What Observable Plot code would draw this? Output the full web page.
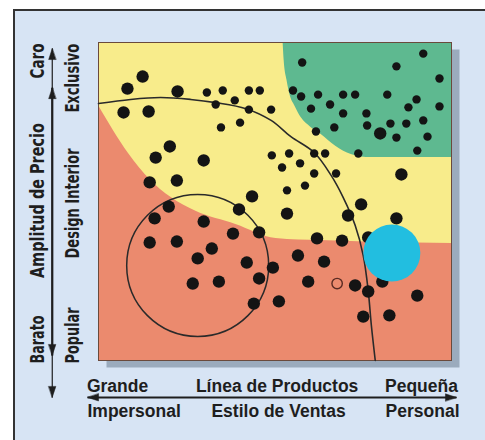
<!DOCTYPE html>
<html><head><meta charset="utf-8">
<script src="https://cdn.jsdelivr.net/npm/d3@7"></script>
<script src="https://cdn.jsdelivr.net/npm/@observablehq/plot@0.6"></script>
<style>
body{margin:0;background:#fff;}
#wrap{position:relative;width:485px;height:440px;overflow:hidden;}
#panel{position:absolute;left:13px;top:9px;width:500px;height:460px;background:#d7e4f4;border-left:2.5px solid #333;border-top:2.5px solid #333;}
#chart{position:absolute;left:0;top:0;}
</style></head>
<body><div id="wrap"><div id="panel"></div><div id="chart"></div></div>
<script>
// Region boundaries (x: line of products / sales style 0-100, y: price range 0-100)
const redX = [0, 8.5, 14.8, 20.5, 27.6, 38.9, 50.3, 63.1, 80.1, 100];
const redY = [80.2, 65.1, 56.6, 51.3, 46.9, 42.8, 38.4, 37.7, 37.1, 36.8];
const greenX = [52.3, 52.6, 53.4, 54.3, 55.7, 57.4, 60.2, 63.1, 67.3, 71.6, 77.3, 100];
const greenY = [100, 94.3, 88.1, 83.3, 79.9, 76.4, 73.3, 71.1, 67.3, 64.8, 63.8, 63.8];
// Big arc
const arcX = [0, 9.1, 17.6, 26.1, 33.2, 41.8, 48.9, 54.5, 61.1, 65.9, 69.3, 72.7, 75.0, 76.4, 77.3, 78.4];
const arcY = [80.8, 82.1, 82.7, 82.1, 81.1, 79.2, 75.5, 70.4, 65.4, 58.2, 51.3, 42.5, 33.0, 22.0, 11.0, 0];
// Circle, highlight and hollow marker
const ringCenter = [28.1, 29.9];
const blueCenter = [83.1, 33.8];
const hollowCenter = [67.6, 24.2];
// Dots
const largeX = [8.2, 12.5, 22.4, 7.1, 14.2, 20.2, 16.2, 29.8, 14.5, 22.2, 43.5, 79.8, 85.8, 19.9, 15.9, 29.8, 39.8, 38.1, 45.5, 14.5, 22.2, 32.1, 28.1, 42.0, 49.4, 45.5, 26.7, 34.1, 44.0, 51.1, 53.4, 74.4, 70.7, 84.4, 61.9, 69.0, 76.4, 56.5, 63.9, 59.4, 72.7, 76.4, 80.4, 90.3, 75.0, 82.4];
const largeY = [85.5, 89.3, 84.6, 78.0, 78.3, 67.3, 63.8, 62.9, 56.0, 56.6, 51.6, 71.4, 58.5, 48.4, 44.7, 43.7, 47.5, 39.9, 40.3, 37.1, 37.4, 35.2, 32.1, 30.8, 29.2, 25.8, 24.2, 24.8, 17.9, 18.6, 46.2, 49.1, 45.6, 44.7, 38.4, 37.7, 38.7, 33.0, 31.1, 24.8, 23.6, 21.7, 24.8, 20.4, 13.8, 14.2];
const smallX = [30.7, 35.2, 38.6, 33.2, 42.6, 45.7, 42.6, 48.9, 34.7, 40.1, 49.1, 57.7, 92.0, 84.4, 96.6, 55.1, 57.4, 62.2, 69.3, 72.7, 81.8, 90.1, 87.8, 96.6, 60.2, 65.6, 69.3, 75.9, 76.1, 82.7, 87.2, 92.0, 66.8, 61.6, 84.4, 93.2, 90.3, 73.6, 54.0, 61.1, 64.2, 52.0, 57.1, 61.1, 67.3, 53.4, 58.5];
const smallY = [84.3, 84.9, 81.8, 80.5, 84.9, 84.9, 78.9, 78.9, 73.3, 74.8, 64.5, 93.7, 96.5, 92.5, 88.7, 84.9, 83.0, 83.6, 83.6, 83.6, 83.6, 82.1, 79.6, 79.9, 79.2, 80.5, 77.7, 77.7, 73.9, 74.5, 74.5, 75.5, 73.3, 72.0, 70.1, 70.4, 66.0, 65.1, 65.1, 65.1, 65.1, 60.7, 62.0, 58.8, 58.8, 53.5, 55.0];
// Axis arrows
const axisLineX1 = [-13.1, -13.1, -3.1];
const axisLineY1 = [98.1, 85.8, -11.6];
const axisLineX2 = [-13.1, -13.1, 101.4];
const axisLineY2 = [-11.6, 1.6, -11.6];
const axisLineW = [1.2, 2.2, 2];
const headX = [-13.1, -13.1, -13.1, -13.1, -3.1, 101.4];
const headY = [98.1, 85.8, 1.6, -11.6, -11.6, -11.6];
const headDir = [0, 0, 180, 180, 270, 90];
// Labels
const outerLabels = ["Caro", "Amplitud de Precio", "Barato"];
const outerY = [94.2, 50.3, 6.6];
const innerLabels = ["Exclusivo", "Design Interior", "Popular"];
const innerY = [88.8, 49.4, 7.9];
const productLabels = ["Grande", "Línea de Productos", "Pequeña"];
const productX = [5.4, 50.6, 91.5];
const salesLabels = ["Impersonal", "Estilo de Ventas", "Personal"];
const salesX = [10.1, 51.0, 91.8];

// condensed-type widths (px) of the vertical labels
const condensedWidth = {"Caro": 35, "Amplitud de Precio": 155, "Barato": 48, "Exclusivo": 69, "Design Interior": 110, "Popular": 56};

const zip = (xs, ys) => xs.map((x, i) => ({x, y: ys[i]}));
const red = zip(redX, redY);
const green = zip(greenX, greenY);
const arc = zip(arcX, arcY);
const large = zip(largeX, largeY);
const small = zip(smallX, smallY);
const axisLines = axisLineX1.map((x1, i) => ({x1, y1: axisLineY1[i], x2: axisLineX2[i], y2: axisLineY2[i], w: axisLineW[i]}));
const heads = headX.map((x, i) => ({x, y: headY[i], r: headDir[i]}));
const headShape = {draw(ctx, l, r) { ctx.moveTo(0, -l); ctx.lineTo(-r, 0); ctx.lineTo(r, 0); ctx.closePath(); }};
const narrow = "'Liberation Sans Narrow', 'DejaVu Sans Condensed', 'Roboto Condensed', sans-serif";
const wide = "'Liberation Sans', Arial, sans-serif";
const ink = "#1e1e1e";

const chart = Plot.plot({
  width: 485, height: 440,
  marginLeft: 98, marginRight: 34, marginTop: 42, marginBottom: 80,
  x: {domain: [0, 100], axis: null},
  y: {domain: [0, 100], axis: null},
  style: {background: "transparent", overflow: "visible"},
  marks: [
    Plot.frame({fill: "#9babbd", stroke: null, dx: 8, dy: 7}),
    Plot.frame({fill: "#f8ec8b", stroke: null}),
    Plot.areaY(green, {x: "x", y1: "y", y2: 100, fill: "#5eb990", curve: "monotone-x"}),
    Plot.areaY(red, {x: "x", y: "y", fill: "#eb8a6e", curve: "monotone-x"}),
    Plot.frame({stroke: "#6a4a3c", strokeWidth: 1}),
    Plot.line(arc, {x: "x", y: "y", stroke: "#2a2a2a", strokeWidth: 1.6, curve: "catmull-rom"}),
    Plot.dot([ringCenter], {x: d => d[0], y: d => d[1], r: 71, stroke: "#2a2a2a", strokeWidth: 1.5, fill: "none"}),
    Plot.dot(small, {x: "x", y: "y", r: 4.2, fill: "#141414"}),
    Plot.dot(large, {x: "x", y: "y", r: 6.2, fill: "#141414"}),
    Plot.dot([hollowCenter], {x: d => d[0], y: d => d[1], r: 5.2, stroke: "#5a2a22", strokeWidth: 1.4, fill: "none"}),
    Plot.dot([blueCenter], {x: d => d[0], y: d => d[1], r: 28.5, fill: "#22bee0"}),
    Plot.link(axisLines, {x1: "x1", y1: "y1", x2: "x2", y2: "y2", stroke: ink, strokeWidth: d => d.w}),
    Plot.vector(heads, {x: "x", y: "y", rotate: "r", length: 11, r: 3.6, anchor: "end", shape: headShape, fill: ink, stroke: ink, strokeWidth: 0.5}),
    Plot.text(outerLabels, {x: -17.3, y: (d, i) => outerY[i], text: d => d, rotate: -90, fontFamily: narrow, fontWeight: "bold", fontSize: 19, fill: ink, textAnchor: "middle", lineAnchor: "middle"}),
    Plot.text(innerLabels, {x: -7.2, y: (d, i) => innerY[i], text: d => d, rotate: -90, fontFamily: narrow, fontWeight: "bold", fontSize: 19, fill: ink, textAnchor: "middle", lineAnchor: "middle"}),
    Plot.text(productLabels, {x: (d, i) => productX[i], y: -8.2, text: d => d, fontFamily: wide, fontWeight: "bold", fontSize: 17.5, fill: ink, textAnchor: "middle", lineAnchor: "middle"}),
    Plot.text(salesLabels, {x: (d, i) => salesX[i], y: -16.0, text: d => d, fontFamily: wide, fontWeight: "bold", fontSize: 17.5, fill: ink, textAnchor: "middle", lineAnchor: "middle"})
  ]
});
d3.select(chart).selectAll("text").each(function() {
  const w = condensedWidth[this.textContent];
  if (w) { this.setAttribute("textLength", w); this.setAttribute("lengthAdjust", "spacingAndGlyphs"); }
});
document.getElementById("chart").appendChild(chart);
</script></body></html>
